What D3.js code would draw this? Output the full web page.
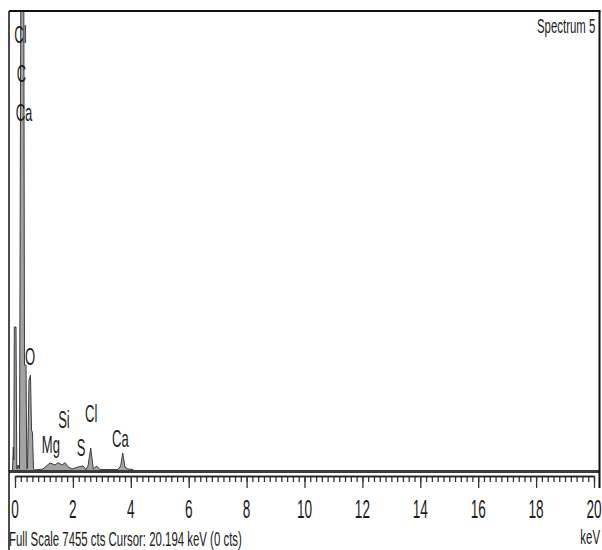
<!DOCTYPE html>
<html>
<head>
<meta charset="utf-8">
<script src="https://cdn.jsdelivr.net/npm/d3@7"></script>
<style>
  html, body { margin: 0; padding: 0; background: #fff; }
  svg { display: block; }
  text { font-family: "Liberation Sans Narrow", "Arial Narrow", "Liberation Sans", Arial, sans-serif; fill: #1c1c1c; }
</style>
</head>
<body>
<svg id="chart" width="602" height="550"></svg>
<script>
// EDS spectrum: energy (keV) vs counts
const energyKeV = [-0.086, -0.059, -0.041, -0.024, 0.035, 0.062, 0.104, 0.155, 0.200, 0.304,
  0.328, 0.380, 0.408, 0.432, 0.484, 0.535, 0.570, 0.604, 0.639, 0.691,
  0.967, 1.209, 1.382, 1.485, 1.623, 1.727, 1.831, 1.969, 2.176, 2.349,
  2.453, 2.522, 2.615, 2.705, 2.822, 2.936, 3.558, 3.651, 3.720, 3.800,
  3.903, 4.076, 4.110];
const counts = [0, 389, 178, 2334, 2334, 32, 97, 32, 7800, 7800,
  1718, 1718, 32, 65, 1475, 1556, 665, 616, 32, 16,
  32, 130, 97, 135, 97, 135, 70, 32, 65, 81,
  24, 81, 373, 32, 81, 24, 24, 81, 292, 65,
  32, 24, 0];

// Element markers (label anchor in keV / counts)
const elementNames = ["Cl", "C", "Ca", "O", "Mg", "Si", "S", "Cl", "Ca"];
const elementKeV = [0.19, 0.22, 0.31, 0.52, 1.24, 1.69, 2.28, 2.63, 3.64];
const elementCounts = [6938, 6306, 5673, 1718, 292, 697, 243, 794, 389];

// Axis ticks
const majorTicks = d3.range(0, 21, 2);
const minorTicks = d3.range(0, 100.5, 1).map(d => d / 5);

const fullScale = 7455;
const spectrumName = "Spectrum 5";
const footerText = "Full Scale " + fullScale + " cts  Cursor: 20.194 keV (0 cts)";
const unitText = "keV";

const svg = d3.select("#chart");
const frame = { left: 9, right: 599.5, top: 11, base: 471, axisY: 476 };

const x = d3.scaleLinear().domain([0, 20]).range([15, 594]);
const y = d3.scaleLinear().domain([0, fullScale]).range([frame.base, frame.top]);

// Condensed text helper: every label shares one horizontal squeeze factor
let squeeze = 1;
function label(str, px, py, size, anchor) {
  const t = svg.append("text")
    .attr("font-size", size)
    .attr("text-anchor", anchor || "start")
    .text(str);
  t.attr("transform", `translate(${px},${py}) scale(${squeeze},1)`);
  return t;
}

// footer defines the squeeze
const footer = svg.append("text").attr("font-size", 21).text(footerText);
squeeze = 233 / footer.node().getComputedTextLength();
footer.attr("transform", `translate(${frame.left},546) scale(${squeeze},1)`);

// clip for the spectrum
svg.append("clipPath").attr("id", "plotClip")
  .append("rect").attr("x", frame.left).attr("y", frame.top)
  .attr("width", frame.right - frame.left).attr("height", frame.base - frame.top + 1);

const pts = energyKeV.map((e, i) => [e, counts[i]]);

svg.append("path")
  .datum(pts)
  .attr("clip-path", "url(#plotClip)")
  .attr("fill", "#a3a3a3")
  .attr("d", d3.area().x(d => x(d[0])).y0(y(0)).y1(d => y(d[1])));

svg.append("path")
  .datum(pts)
  .attr("clip-path", "url(#plotClip)")
  .attr("fill", "none")
  .attr("stroke", "#3c3c3c")
  .attr("stroke-width", 1)
  .attr("d", d3.line().x(d => x(d[0])).y(d => y(d[1])));

// baseline band under the spectrum
svg.append("line")
  .attr("x1", frame.left).attr("x2", frame.right)
  .attr("y1", frame.base + 0.5).attr("y2", frame.base + 0.5)
  .attr("stroke", "#3a3a3a").attr("stroke-width", 3);

// frame
svg.append("line").attr("x1", frame.left).attr("x2", frame.right + 1)
  .attr("y1", frame.top).attr("y2", frame.top)
  .attr("stroke", "#111").attr("stroke-width", 2);
svg.append("line").attr("x1", frame.left).attr("x2", frame.left)
  .attr("y1", frame.top).attr("y2", 550)
  .attr("stroke", "#111").attr("stroke-width", 1.5);
svg.append("line").attr("x1", frame.right).attr("x2", frame.right)
  .attr("y1", frame.top).attr("y2", 488)
  .attr("stroke", "#111").attr("stroke-width", 2);

// energy axis: minor and major ticks
const minorAxis = d3.axisBottom(x).tickValues(minorTicks).tickSize(6).tickSizeOuter(0).tickFormat("");
const majorAxis = d3.axisBottom(x).tickValues(majorTicks).tickSize(12).tickSizeOuter(0).tickFormat("");

const gMinor = svg.append("g").attr("transform", `translate(0,${frame.axisY})`).call(minorAxis);
const gMajor = svg.append("g").attr("transform", `translate(0,${frame.axisY})`).call(majorAxis);
[gMinor, gMajor].forEach(g => {
  g.selectAll("path.domain").attr("stroke", "#222").attr("stroke-width", 1.3);
  g.selectAll(".tick line").attr("stroke", "#333").attr("stroke-width", 1.3);
});

majorTicks.forEach(v => label(String(v), x(v), 518, 25, "middle"));

// element markers
elementNames.forEach((n, i) =>
  label(n, x(elementKeV[i]), y(elementCounts[i]), 24, "middle"));

// spectrum title and unit
label(spectrumName, 537, 33, 21, "start");
label(unitText, 600, 544, 21, "end");
</script>
</body>
</html>
